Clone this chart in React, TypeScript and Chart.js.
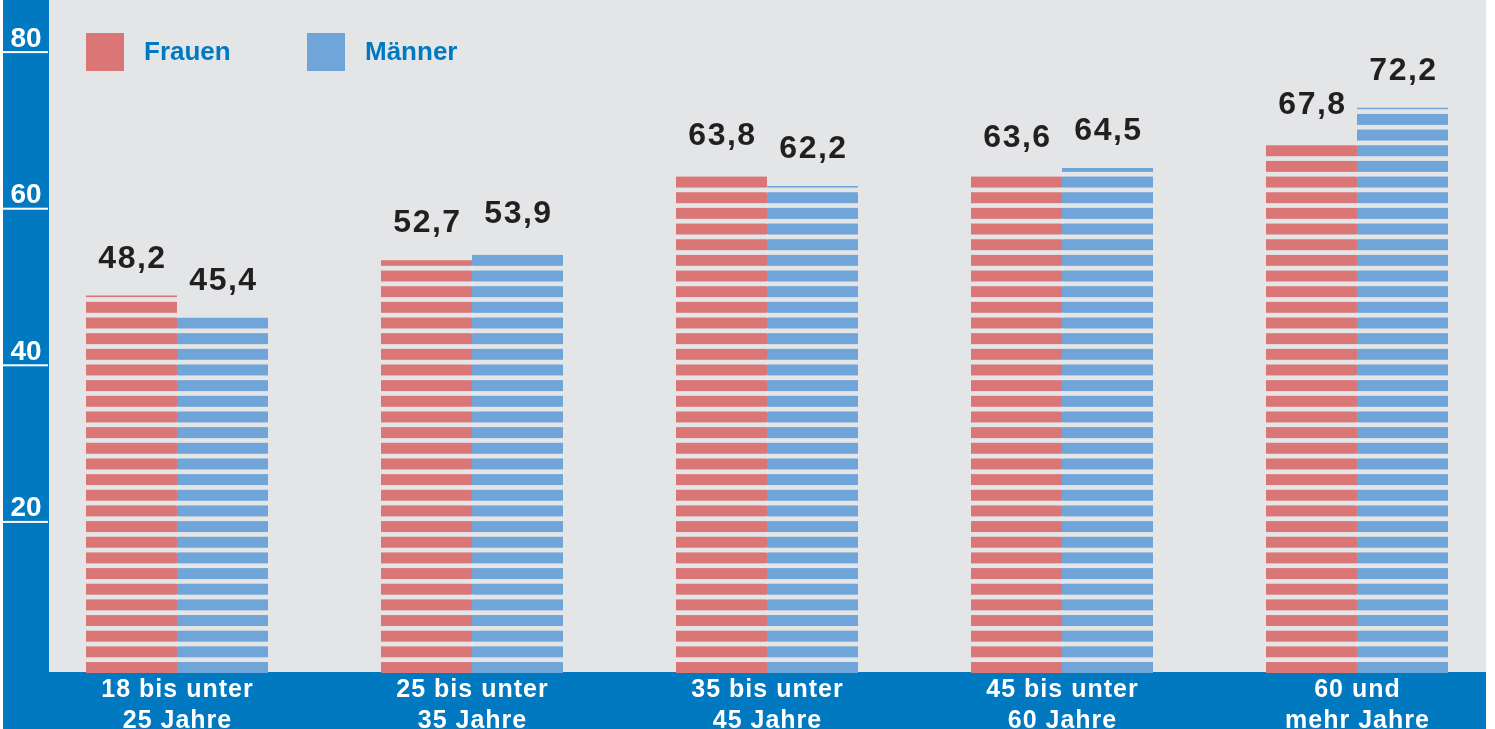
import React, { useEffect, useRef } from "react";
import { Chart, registerables } from "chart.js";

Chart.register(...registerables);

const categories: string[][] = [
  ["18 bis unter", "25 Jahre"],
  ["25 bis unter", "35 Jahre"],
  ["35 bis unter", "45 Jahre"],
  ["45 bis unter", "60 Jahre"],
  ["60 und", "mehr Jahre"],
];
const frauen: number[] = [48.2, 52.7, 63.8, 63.6, 67.8];
const maenner: number[] = [45.4, 53.9, 62.2, 64.5, 72.2];
const yTicks: number[] = [20, 40, 60, 80];
const seriesLabels: string[] = ["Frauen", "Männer"];

const RED = "#db7676";
const BLUE_BAR = "#6fa5d8";
const BLUE = "#0079c1";
const GRAY = "#e4e5e7";
const FONT = "'Liberation Sans', Arial, sans-serif";

const fmt = (v: number) => v.toFixed(1).replace(".", ",");

const decorPlugin = {
  id: "decor",
  beforeDraw(chart: any) {
    const { ctx, width, height } = chart;
    ctx.save();
    ctx.fillStyle = "#ffffff";
    ctx.fillRect(0, 0, width, height);
    ctx.fillStyle = GRAY;
    ctx.fillRect(3, 0, 1483, 672);
    ctx.fillStyle = BLUE;
    ctx.fillRect(3, 0, 46, height);
    ctx.fillRect(3, 672, 1483, height - 672);
    // y ticks
    const y = chart.scales.y;
    ctx.fillStyle = "#ffffff";
    ctx.font = `bold 28px ${FONT}`;
    ctx.textAlign = "center";
    ctx.textBaseline = "alphabetic";
    yTicks.forEach((t) => {
      const py = y.getPixelForValue(t);
      ctx.fillText(String(t), 26, py);
      ctx.fillRect(3, py + 4.5, 45, 2);
    });
    // legend
    const colors = [RED, BLUE_BAR];
    const lx = [86, 307];
    ctx.font = `bold 26px ${FONT}`;
    ctx.textAlign = "left";
    ctx.textBaseline = "middle";
    seriesLabels.forEach((lab, i) => {
      ctx.fillStyle = colors[i];
      ctx.fillRect(lx[i], 33, 38, 38);
      ctx.fillStyle = BLUE;
      ctx.fillText(lab, lx[i] + 58, 53);
    });
    ctx.restore();
  },
  afterDatasetsDraw(chart: any) {
    const { ctx } = chart;
    const y = chart.scales.y;
    const x = chart.scales.x;
    ctx.save();
    // stripes
    chart.data.datasets.forEach((ds: any, di: number) => {
      const meta = chart.getDatasetMeta(di);
      meta.data.forEach((el: any, i: number) => {
        const v = ds.data[i];
        const w = el.width;
        ctx.fillStyle = GRAY;
        for (let k = 0; 2 * k < v; k++) {
          let top = y.getPixelForValue(2 * k + 2);
          const bot = y.getPixelForValue(2 * k + 1.4);
          top = Math.max(top, el.y - 1);
          if (bot > top) ctx.fillRect(el.x - w / 2 - 1, top, w + 2, bot - top);
        }
      });
    });
    // value labels
    ctx.fillStyle = "#231f20";
    ctx.font = `bold 32px ${FONT}`;
    (ctx as any).letterSpacing = "1.5px";
    ctx.textAlign = "center";
    ctx.textBaseline = "alphabetic";
    chart.data.datasets.forEach((ds: any, di: number) => {
      const meta = chart.getDatasetMeta(di);
      meta.data.forEach((el: any, i: number) => {
        const v = ds.data[i];
        ctx.fillText(fmt(v), el.x + 1, y.getPixelForValue(v) - 28);
      });
    });
    // category labels
    ctx.fillStyle = "#ffffff";
    ctx.font = `bold 25px ${FONT}`;
    (ctx as any).letterSpacing = "1px";
    categories.forEach((lines, i) => {
      const px = x.getPixelForValue(i);
      lines.forEach((ln, li) => {
        ctx.fillText(ln, px + 0.5, 697 + li * 31);
      });
    });
    ctx.restore();
  },
};

export default function App() {
  const ref = useRef<HTMLCanvasElement | null>(null);
  useEffect(() => {
    document.body.style.margin = "0";
    if (!ref.current) return;
    const chart = new Chart(ref.current, {
      type: "bar",
      data: {
        labels: categories.map((c) => c.join(" ")),
        datasets: [
          {
            label: seriesLabels[0],
            data: frauen,
            backgroundColor: RED,
            borderWidth: 0,
            barThickness: 91,
            inflateAmount: 0,
            clip: false as any,
          } as any,
          {
            label: seriesLabels[1],
            data: maenner,
            backgroundColor: BLUE_BAR,
            borderWidth: 0,
            barThickness: 91,
            inflateAmount: 0,
            clip: false as any,
          } as any,
        ],
      },
      options: {
        responsive: false,
        animation: false,
        events: [],
        layout: { padding: { left: 177, right: 138, top: 46.6, bottom: 56 } },
        scales: {
          x: { type: "category", offset: false, display: false, grid: { display: false } },
          y: { min: 0, max: 80, display: false, grid: { display: false } },
        },
        plugins: { legend: { display: false }, tooltip: { enabled: false } },
      },
      plugins: [decorPlugin],
    });
    return () => chart.destroy();
  }, []);
  return <canvas ref={ref} width={1495} height={729} style={{ display: "block" }} />;
}
